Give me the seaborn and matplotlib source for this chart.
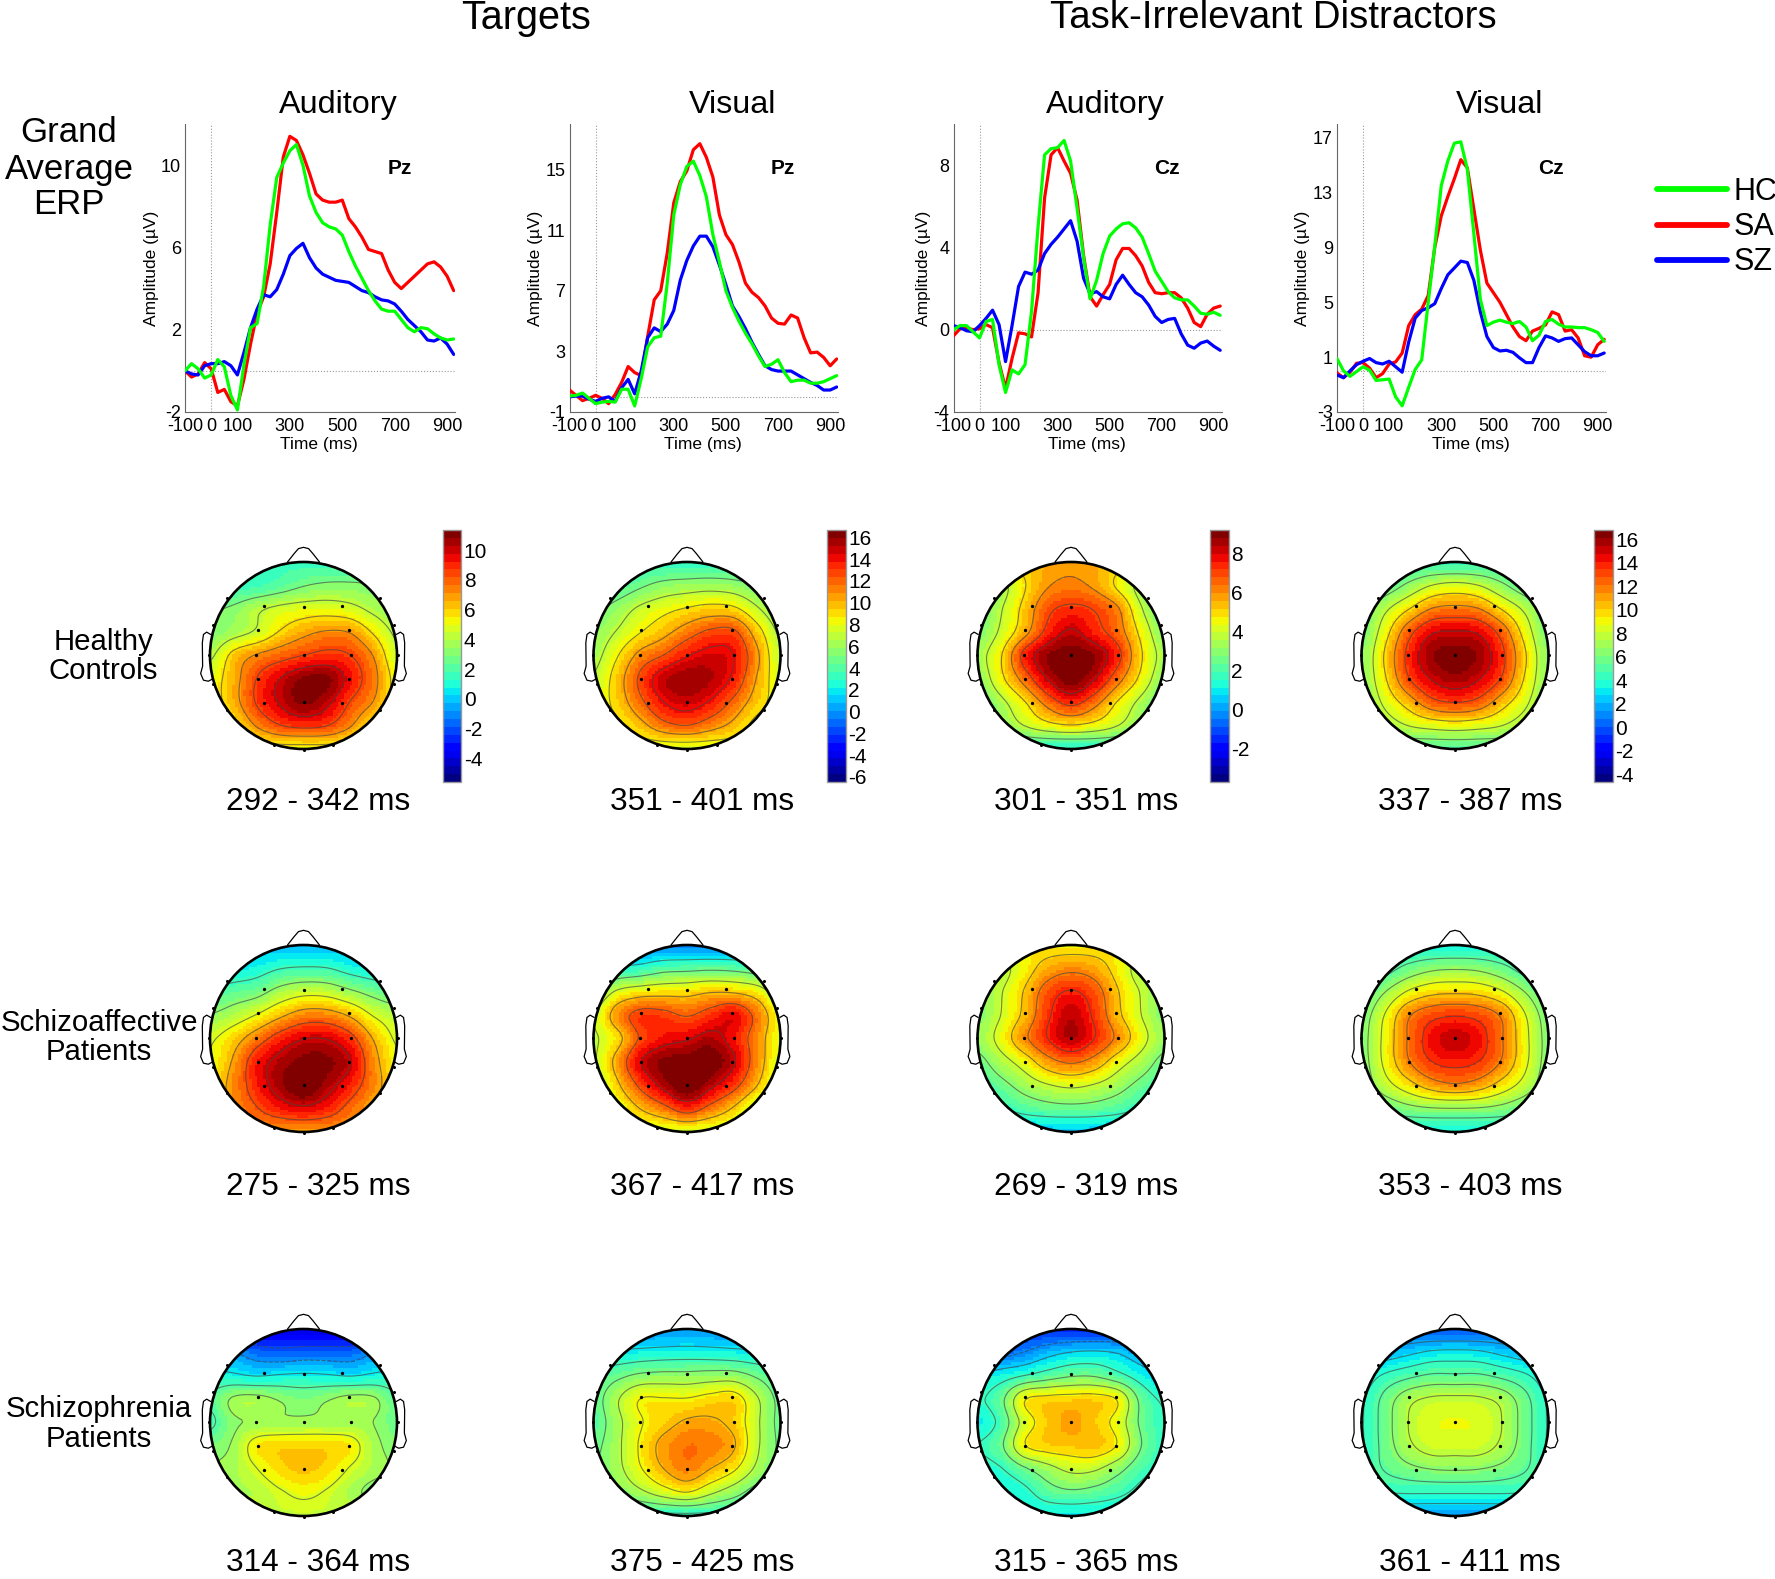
import numpy as np
import pandas as pd
import seaborn as sns
import matplotlib
matplotlib.use("Agg")
import matplotlib.pyplot as plt
from matplotlib.lines import Line2D
from matplotlib.patches import Circle

W, H = 1775, 1579

# time axis of the ERP curves, one value every 25 ms
time_ms = list(range(-100, 950, 25))

# grand average curves (uV)
aud_pz_hc = [0, .35, .1, -.35, -.2, .55, .2, -1.2, -1.9, .3, 2.1, 2.3, 4.1, 7.1, 9.4, 10.1, 10.7, 11.0, 10, 8.5, 7.7, 7.2, 7, 6.9, 6.6, 5.8, 5.1, 4.5, 3.9, 3.4, 3, 2.9, 2.9, 2.5, 2.1, 1.9, 2.1, 2.05, 1.8, 1.6, 1.5, 1.55]
aud_pz_sa = [0, -.3, -.15, .4, .1, -1.05, -.9, -1.5, -1.7, -.4, 1.3, 2.8, 3.6, 5.2, 7.7, 10.4, 11.4, 11.2, 10.5, 9.6, 8.6, 8.3, 8.2, 8.2, 8.3, 7.4, 7, 6.5, 5.9, 5.8, 5.7, 4.9, 4.3, 4, 4.3, 4.6, 4.9, 5.2, 5.3, 5.05, 4.6, 3.9]
aud_pz_sz = [0, -.15, -.2, .25, .35, .35, .45, .25, -.2, .9, 2.1, 3, 3.7, 3.6, 3.95, 4.7, 5.6, 5.95, 6.2, 5.5, 5, 4.7, 4.55, 4.4, 4.35, 4.3, 4.1, 3.9, 3.8, 3.6, 3.45, 3.4, 3.25, 2.9, 2.5, 2.2, 1.9, 1.5, 1.45, 1.6, 1.3, .8]

vis_pz_hc = [.05, .1, .25, -.1, -.45, -.35, -.3, -.35, .5, .5, -.6, 1.2, 3.3, 3.9, 4, 7.5, 12, 14, 15.2, 15.55, 14.6, 13.2, 10.7, 8.9, 7, 5.9, 5, 4.2, 3.5, 2.7, 2, 2.15, 2.45, 1.6, 1, 1.1, 1.1, .9, .9, 1, 1.2, 1.4]
vis_pz_sa = [.45, .1, -.25, -.1, .1, -.1, -.45, .15, .95, 2, 1.6, 1.4, 4, 6.4, 7, 9.5, 12.8, 14.2, 14.9, 16.3, 16.7, 15.8, 14.5, 12, 10.7, 10.05, 8.9, 7.5, 6.9, 6.55, 6, 5.2, 4.85, 4.8, 5.4, 5.2, 3.9, 2.9, 2.95, 2.6, 2.05, 2.5]
vis_pz_sz = [0, .05, .05, -.15, -.3, -.1, 0, -.3, .6, 1.15, .2, 1.7, 3.9, 4.55, 4.3, 4.8, 5.7, 7.7, 9, 9.95, 10.6, 10.6, 9.9, 8.7, 7.4, 6, 5.3, 4.5, 3.6, 2.8, 2.05, 1.8, 1.7, 1.7, 1.7, 1.45, 1.2, .95, .75, .45, .45, .65]

aud_cz_hc = [0, .2, .2, -.1, -.4, .4, .5, -1.7, -3.05, -1.95, -2.15, -1.7, .9, 5, 8.5, 8.8, 8.85, 9.2, 8.2, 5.9, 3.5, 1.5, 2.4, 3.7, 4.55, 4.9, 5.15, 5.2, 4.95, 4.5, 3.7, 2.85, 2.35, 1.85, 1.55, 1.45, 1.45, 1.15, .8, .75, .85, .7]
aud_cz_sa = [-.3, .05, .1, 0, .05, .25, .1, -1.6, -2.85, -1.4, -.15, -.2, -.35, 1.8, 6.4, 8.5, 8.85, 8.2, 7.6, 6.3, 3.6, 1.6, 1.15, 1.7, 2.2, 3.4, 3.95, 3.95, 3.6, 3.1, 2.3, 1.8, 1.75, 1.8, 1.8, 1.55, 1.05, .35, .15, .75, 1.05, 1.15]
aud_cz_sz = [.2, .1, -.05, -.1, .2, .55, .95, .25, -1.55, .2, 2.1, 2.8, 2.7, 2.9, 3.7, 4.15, 4.5, 4.9, 5.3, 4.3, 2.5, 1.75, 1.85, 1.6, 1.5, 2.2, 2.65, 2.2, 1.8, 1.6, 1.2, .65, .35, .5, .55, -.2, -.75, -.9, -.65, -.55, -.8, -1]

vis_cz_hc = [.9, 0, -.4, -.05, .3, .05, -.7, -.65, -.6, -1.9, -2.55, -1.2, .1, .8, 5, 9.1, 13.5, 15.3, 16.6, 16.7, 14.7, 10, 5.2, 3.3, 3.55, 3.7, 3.55, 3.45, 3.6, 3.2, 2.2, 2.6, 3.6, 3.75, 3.4, 3.2, 3.2, 3.15, 3.15, 3, 2.8, 2.15]
vis_cz_sa = [-.15, -.5, -.1, .55, .6, .2, -.5, -.2, .5, .65, 1.3, 3.3, 4.1, 4.5, 5.5, 9, 11.3, 12.7, 14, 15.4, 14.8, 11.8, 8.8, 6.4, 5.7, 5, 4.1, 3.2, 2.5, 2.2, 2.9, 3.1, 3.35, 4.3, 4.1, 2.9, 3, 2.4, 1.1, 1, 1.9, 2.3]
vis_cz_sz = [-.3, -.5, 0, .45, .7, .9, .6, .5, .7, .3, -.1, 2.1, 3.85, 4.4, 4.6, 4.9, 6, 7, 7.5, 8, 7.9, 6.6, 4.3, 2.5, 1.7, 1.45, 1.5, 1.35, .95, .6, .6, 1.7, 2.55, 2.4, 2.15, 2.35, 2.4, 1.9, 1.4, 1.1, 1.1, 1.3]

# scalp maps (uV) read on a 9x9 grid, rows from the nose down, columns left to right
hc_t_aud = [[1.6, 1.6, 1.6, 1.6, 1.6, 1.6, 1.6, 1.6, 1.6],
            [1.4, 1.5, 1.7, 2.2, 2.8, 3.1, 3.1, 2.9, 2.6],
            [2.7, 3.1, 4, 4.6, 4.9, 5, 4.7, 3.9, 3.2],
            [3, 3.7, 4.5, 5.8, 6.7, 7.2, 7, 5.5, 4],
            [4, 6.1, 7.2, 7.9, 8.5, 8.9, 8.5, 7, 4.5],
            [5, 6.5, 8.5, 9.9, 10.9, 11, 9.4, 7.5, 5.2],
            [5, 6.5, 8.6, 10, 11, 10.2, 8.4, 7, 5],
            [4.8, 5.5, 7.2, 8.4, 8.8, 8.5, 7.2, 5.5, 4.8],
            [5, 5, 5, 5.2, 5.2, 5.2, 5, 5, 5]]
hc_t_vis = [[3.2, 3.2, 3.2, 3.2, 3.2, 3.2, 3.2, 3.2, 3.2],
            [3.1, 3.8, 4.8, 5.6, 5.9, 6.1, 5.8, 5, 4],
            [4.6, 5.8, 7.2, 8.1, 8.8, 9.3, 9, 7.1, 5.3],
            [5.6, 7, 8.6, 9.9, 11.4, 12.6, 12.6, 9.5, 6.5],
            [6.2, 8.5, 11, 12.3, 13.9, 14.6, 14, 10.8, 7],
            [7, 9.5, 12.6, 15, 15.8, 15.3, 13.6, 10.3, 7.5],
            [7.5, 9.3, 11.8, 14, 14.8, 13.8, 11.8, 9.5, 7.8],
            [7.5, 8.2, 9.8, 11.6, 12.2, 11.2, 9.9, 8, 7.5],
            [7.6, 7.6, 7.6, 7.6, 7.6, 7.6, 7.6, 7.6, 7.6]]
hc_d_aud = [[4.8, 4.8, 5.2, 5.6, 5.8, 5.6, 5.2, 4.8, 4.8],
            [2.5, 3.4, 4.8, 5.9, 6.2, 5.8, 4.7, 3.4, 2.5],
            [2.5, 3.7, 5.2, 6.8, 7.3, 7, 6.1, 3.9, 2.4],
            [2.8, 4, 5.6, 7.4, 8.3, 7.5, 6.5, 4.6, 2.9],
            [3.4, 4.8, 7.4, 8.8, 9.1, 8.8, 7.4, 5, 3.4],
            [3, 4.6, 6.4, 8.2, 9.1, 8.2, 6.4, 4.6, 3],
            [2.4, 3.5, 4.8, 6.4, 7.4, 6.4, 4.8, 3.5, 2.4],
            [2, 2.9, 3.8, 4.5, 4.8, 4.5, 3.8, 2.9, 2],
            [1.5, 1.5, 1.5, 1.5, 1.5, 1.5, 1.5, 1.5, 1.5]]
hc_d_vis = [[4.4, 4.4, 4.4, 4.4, 4.4, 4.4, 4.4, 4.4, 4.4],
            [4.5, 5.2, 6.6, 8, 8.5, 8, 6.6, 5.2, 4.5],
            [5.5, 7.6, 9.6, 11.5, 11.9, 11.5, 9.6, 7.6, 5.5],
            [6, 9, 12.5, 14.7, 15, 14.7, 12.5, 9, 6],
            [6.5, 9.9, 13.6, 16, 16.6, 16, 13.6, 9.9, 6.5],
            [6.5, 9.5, 13, 15, 15.8, 15, 13, 9.5, 6.5],
            [6, 8.4, 10.5, 12.6, 13.2, 12.6, 10.5, 8.4, 6],
            [5.5, 6.9, 8, 8.6, 8.9, 8.6, 8, 6.9, 5.5],
            [5, 5, 5, 5, 5, 5, 5, 5, 5]]

sa_t_aud = [[-.2, -.2, -.2, -.2, -.2, -.2, -.2, -.2, -.2],
            [.2, .5, .9, 1.5, 1.7, 1.6, 1, .6, .4],
            [1.8, 2.3, 2.7, 3.8, 4.4, 4.3, 3.5, 2.7, 2.1],
            [3.3, 4, 5, 6.3, 7.3, 7.3, 6.4, 4.8, 4],
            [4.7, 5.9, 7.5, 9, 9.9, 9.9, 8.8, 6.5, 4.7],
            [5, 6.8, 9.2, 10.4, 11.1, 11, 10, 7.2, 5.2],
            [5.5, 7.2, 9.1, 10.6, 11.6, 10.5, 9.1, 7.3, 5.5],
            [5.6, 7, 8.2, 9.2, 9.7, 9.1, 7.8, 6.5, 5.3],
            [7, 7, 7, 7, 7, 7, 7, 7, 7]]
sa_t_vis = [[-.3, -.3, -.3, -.3, -.3, -.3, -.3, -.3, -.3],
            [2.1, 2.6, 3.1, 4, 4.2, 4.4, 4.2, 3.6, 3.1],
            [5, 7.6, 8.6, 8.9, 9, 9.6, 9.5, 8.5, 6],
            [7.2, 10.8, 13, 12.9, 12.1, 13.2, 14.2, 11.5, 8],
            [7, 9, 12.5, 14, 14.5, 15.3, 13.9, 11, 7.8],
            [7, 10.5, 14.6, 16.2, 16.5, 16.7, 14.9, 11, 7.5],
            [6.5, 9.3, 12.7, 15.3, 17, 15.2, 13, 9.8, 7],
            [7, 7.8, 9.8, 11.5, 13.3, 11.5, 9.5, 7, 5.5],
            [7.5, 7.5, 7.5, 7.5, 7.5, 7.5, 7.5, 7.5, 7.5]]
sa_d_aud = [[4.7, 4.7, 4.7, 4.7, 4.7, 4.7, 4.7, 4.7, 4.7],
            [3, 3.6, 4.6, 5.6, 6, 5.7, 4.7, 3.5, 3],
            [3, 3.9, 5.2, 6.8, 7.5, 6.8, 5.2, 3.9, 3],
            [2.9, 4, 5.4, 7.2, 8.3, 7.2, 5.4, 4, 2.9],
            [3.2, 4.4, 6, 7.4, 8.4, 7.4, 6, 4.4, 3.2],
            [2.5, 3.5, 4.5, 5.8, 6.4, 5.8, 4.5, 3.5, 2.5],
            [1.9, 2.5, 3.3, 3.9, 4.2, 3.9, 3.3, 2.5, 1.9],
            [1.2, 1.6, 2.1, 2.4, 2.5, 2.4, 2.1, 1.6, 1.2],
            [.5, .5, .5, .5, .5, .5, .5, .5, .5]]
sa_d_vis = [[3.6, 3.6, 3.6, 3.6, 3.6, 3.6, 3.6, 3.6, 3.6],
            [3.8, 4.5, 5.7, 6.5, 6.7, 6.5, 5.7, 4.5, 3.8],
            [5, 6.8, 8.7, 9.7, 9.9, 9.7, 8.7, 6.8, 5],
            [6, 8.6, 11.6, 13, 13.4, 13, 11.6, 8.6, 6],
            [6.3, 9, 12, 14.3, 15.2, 14.3, 12, 9, 6.3],
            [6.2, 8.9, 11.7, 13.5, 14, 13.5, 11.7, 8.9, 6.2],
            [5.8, 7.8, 9.5, 11, 11.6, 11, 9.5, 7.8, 5.8],
            [4.8, 5.5, 6.3, 6.7, 6.8, 6.7, 6.3, 5.5, 4.8],
            [3.4, 3.4, 3.4, 3.4, 3.4, 3.4, 3.4, 3.4, 3.4]]

sz_t_aud = [[-3.8, -3.8, -3.8, -3.8, -3.8, -3.8, -3.8, -3.8, -3.8],
            [-.7, -.9, -1.6, -1.9, -1.7, -1.7, -1.7, -1, -.7],
            [1, .8, .5, .7, .8, .7, .5, .8, 1],
            [2.2, 3.6, 3.8, 3.3, 2.9, 3.3, 3.8, 3.6, 2.2],
            [1.7, 3.2, 3.5, 3.6, 3.7, 3.7, 3.7, 3.4, 2.5],
            [2.9, 3.6, 5.5, 5.9, 5.9, 5.9, 5.5, 3.8, 3],
            [3.5, 3.8, 4.8, 5.8, 6.2, 5.8, 4.7, 3.8, 3.3],
            [3.6, 3.8, 4, 4.7, 5.1, 4.7, 3.8, 3.1, 3],
            [4.4, 4.4, 4.4, 4.4, 4.4, 4.4, 4.4, 4.4, 4.4]]
sz_t_vis = [[0, 0, 0, 0, 0, 0, 0, 0, 0],
            [2, 2, 2.2, 2.4, 2.5, 2.4, 2.2, 2, 2],
            [3.6, 4.6, 5.4, 5.6, 5.6, 5.8, 5.8, 4.8, 3.7],
            [4.3, 6.5, 8.4, 8.5, 8.5, 9, 9.2, 6.9, 4.6],
            [4, 6.2, 8.2, 9.3, 10.3, 10.3, 9.5, 7, 4.6],
            [4.6, 6.3, 8.6, 10.6, 11.6, 11.3, 10.2, 7, 4.8],
            [5, 6.2, 8.2, 10, 11.2, 10, 8.6, 6.3, 4.7],
            [4.6, 5.2, 6.3, 7.5, 8.3, 7, 5.7, 4.3, 3.8],
            [3, 3, 3, 3, 3, 3, 3, 3, 3]]
sz_d_aud = [[-1.4, -1.4, -1.4, -1.4, -1.4, -1.4, -1.4, -1.4, -1.4],
            [-1, -.7, -.3, .3, .7, .8, .6, 0, -.3],
            [.8, 1.2, 1.7, 2.2, 2.6, 2.6, 2, 1.2, .5],
            [1.5, 2.4, 4.6, 5, 5.1, 5.1, 4.6, 2.4, 1.5],
            [1, 2, 4.1, 5.2, 5.7, 5.2, 4.3, 2.5, 1.7],
            [1.7, 2.5, 4.6, 5.1, 5.2, 5.3, 4.6, 2.7, 1.7],
            [1.2, 1.6, 2.5, 3.3, 3.9, 3.8, 3, 2, 1.5],
            [.8, 1, 1.4, 2.2, 2.5, 2.3, 1.9, 1.4, 1],
            [1, 1, 1, 1, 1, 1, 1, 1, 1]]
sz_d_vis = [[.3, .3, .3, .3, .3, .3, .3, .3, .3],
            [1.6, 2, 2.5, 3, 3.1, 3, 2.5, 2, 1.6],
            [3.2, 4.2, 4.9, 5.4, 5.4, 5.4, 4.9, 4.2, 3.2],
            [3.8, 5.6, 7.2, 7.8, 7.9, 7.8, 7.2, 5.6, 3.8],
            [3.9, 5.8, 7.6, 8.6, 8.8, 8.6, 7.6, 5.8, 3.9],
            [3.9, 5.7, 7.3, 8.2, 8.2, 8.2, 7.3, 5.7, 3.9],
            [4.2, 5.3, 6, 6.4, 6.5, 6.4, 6, 5.3, 4.2],
            [3.8, 4, 4.1, 4.1, 4.1, 4.1, 4.1, 4, 3.8],
            [1.6, 1.6, 1.6, 1.6, 1.6, 1.6, 1.6, 1.6, 1.6]]

row_labels = [("Healthy", "Controls"), ("Schizoaffective", "Patients"), ("Schizophrenia", "Patients")]
condition_titles = ["Auditory", "Visual", "Auditory", "Visual"]
sites = ["Pz", "Pz", "Cz", "Cz"]
map_windows = [["292 - 342 ms", "351 - 401 ms", "301 - 351 ms", "337 - 387 ms"],
               ["275 - 325 ms", "367 - 417 ms", "269 - 319 ms", "353 - 403 ms"],
               ["314 - 364 ms", "375 - 425 ms", "315 - 365 ms", "361 - 411 ms"]]
erp_yticks = [[-2, 2, 6, 10], [-1, 3, 7, 11, 15], [-4, 0, 4, 8], [-3, 1, 5, 9, 13, 17]]
erp_ylim = [(-2, 12), (-1, 18), (-4, 10), (-3, 18)]
cbar_ticks = [list(range(-4, 11, 2)), list(range(-6, 17, 2)), list(range(-2, 9, 2)), list(range(-4, 17, 2))]
cbar_lim = [(-5.6, 11.35), (-6.46, 16.67), (-3.7, 9.2), (-4.65, 16.8)]

sns.set_theme(style="white")
plt.rcParams["font.family"] = ["Liberation Sans", "DejaVu Sans"]
plt.rcParams["axes.unicode_minus"] = False

fig = plt.figure(figsize=(W / 100, H / 100), dpi=100, facecolor="white")


def px_axes(x0, y0, x1, y1):
    return fig.add_axes([x0 / W, 1 - y1 / H, (x1 - x0) / W, (y1 - y0) / H])


def px_text(x, y, s, size, **kw):
    fig.text(x / W, 1 - y / H, s, fontsize=size, ha="center", va="center", color="black", **kw)


def resample(a, n):
    # catmull-rom along the first axis, only to draw the coarse reading smoothly
    m = a.shape[0]
    pos = (np.arange(n) + .5) / n * (m - 1)
    i = np.clip(pos.astype(int), 0, m - 2)
    t = (pos - i)[(...,) + (None,) * (a.ndim - 1)]
    p0, p1, p2, p3 = a[np.clip(i - 1, 0, m - 1)], a[i], a[i + 1], a[np.clip(i + 2, 0, m - 1)]
    return .5 * (2 * p1 + (p2 - p0) * t + (2 * p0 - 5 * p1 + 4 * p2 - p3) * t ** 2 + (3 * p1 - p0 - 3 * p2 + p3) * t ** 3)


# ---- ERP row
erp_rects = [(185, 455), (569.5, 838), (953.5, 1221.5), (1337, 1605.5)]
erp_data = [(aud_pz_hc, aud_pz_sa, aud_pz_sz), (vis_pz_hc, vis_pz_sa, vis_pz_sz),
            (aud_cz_hc, aud_cz_sa, aud_cz_sz), (vis_cz_hc, vis_cz_sa, vis_cz_sz)]
ylabel_x = [-.095, -.1, -.083, -.099]
title_x = [338.5, 732.5, 1105, 1500]
colors = {"HC": "#00ff00", "SA": "#ff0000", "SZ": "#0000ff"}

for k, (x0, x1) in enumerate(erp_rects):
    ax = px_axes(x0, 124, x1, 412)
    hc, sa, sz = erp_data[k]
    df = pd.DataFrame({"time": time_ms, "HC": hc, "SA": sa, "SZ": sz}).melt("time", var_name="group", value_name="amp")
    ax.axvline(0, color="#999999", lw=.8, ls=":", zorder=1)
    ax.axhline(0, color="#999999", lw=.8, ls=":", zorder=1)
    sns.lineplot(data=df, x="time", y="amp", hue="group", hue_order=["SA", "SZ", "HC"], palette=colors,
                 lw=2.3, legend=False, errorbar=None, ax=ax, zorder=3, solid_joinstyle="round")
    ax.set_xlim(-100, 930)
    ax.set_ylim(*erp_ylim[k])
    ax.set_xticks([-100, 0, 100, 300, 500, 700, 900])
    ax.set_yticks(erp_yticks[k])
    ax.tick_params(direction="in", length=2.5, width=.7, color="#555555", labelsize=13, pad=3, labelcolor="black")
    ax.tick_params(axis="x", pad=4)
    for s in ["top", "right"]:
        ax.spines[s].set_visible(False)
    for s in ["left", "bottom"]:
        ax.spines[s].set_color("#666666")
        ax.spines[s].set_linewidth(.8)
    ax.set_xlabel("Time (ms)", fontsize=12.5, color="black")
    ax.set_ylabel("Amplitude (µV)", fontsize=12.5, color="black")
    ax.xaxis.set_label_coords(.497, -.088)
    ax.yaxis.set_label_coords(ylabel_x[k], .5)
    ax.text(.795, .847, sites[k], transform=ax.transAxes, fontsize=15, fontweight="bold",
            ha="center", va="center", color="black")
    px_text(title_x[k], 105, condition_titles[k], 23.3)

px_text(526, 18, "Targets", 28.5)
px_text(1273, 18, "Task-Irrelevant Distractors", 27.6)
px_text(69, 132, "Grand", 25)
px_text(69, 169, "Average", 25)
px_text(69, 204, "ERP", 25)

handles = [Line2D([], [], color=colors[g], lw=4.2, solid_capstyle="round") for g in ["HC", "SA", "SZ"]]
fig.legend(handles, ["HC", "SA", "SZ"], loc="upper left", bbox_to_anchor=(1651 / W, 1 - 171 / H), frameon=False,
           fontsize=22, handlelength=2.3, handletextpad=.2, labelspacing=.17, borderpad=.2, borderaxespad=0,
           labelcolor="black")

# ---- scalp maps
head_x = [303.5, 687, 1071, 1455]
head_y = [655.5, 1038.5, 1422.5]
head_r = 93.5
cbar_x = [442.5, 827, 1210, 1594]
text_x = [318, 702, 1086, 1470]
text_y = [802, 1187, 1563]
maps = [[hc_t_aud, hc_t_vis, hc_d_aud, hc_d_vis],
        [sa_t_aud, sa_t_vis, sa_d_aud, sa_d_vis],
        [sz_t_aud, sz_t_vis, sz_d_aud, sz_d_vis]]
jet = matplotlib.colormaps["jet"].resampled(32)
n = 67

el_inner = [(-.418, .525), (0, .514), (.414, .525), (-.489, .268), (.486, .268), (-.507, .01), (0, .01), (.507, .01),
            (-.489, -.254), (.486, -.254), (-.418, -.507), (0, -.496), (.414, -.507)]
el_rim = [(-.82, .61), (.82, .61), (-.964, .321), (.964, .321), (-1.01, .01), (1.01, .01), (-.964, -.3), (.964, -.3),
          (-.82, -.586), (.82, -.586), (-.32, -.954), (.32, -.954), (0, -1.01)]
nose_u = [-.171, -.1, -.054, 0, .054, .1, .171]
nose_v = [1.0, 1.09, 1.143, 1.157, 1.143, 1.09, 1.0]
ear_u = [.993, 1.036, 1.07, 1.082, 1.079, 1.1, 1.07, 1.018, .97]
ear_v = [.225, .25, .225, .136, -.114, -.193, -.264, -.275, -.25]

for r in range(3):
    for c in range(4):
        cx, cy = head_x[c], head_y[r]
        ax = px_axes(cx - head_r, cy - head_r, cx + head_r, cy + head_r)
        up = resample(resample(np.array(maps[r][c], dtype=float), n).T, n).T
        vmin, vmax = cbar_lim[c]
        if r == 0:
            cax = px_axes(cbar_x[c], 530, cbar_x[c] + 18.5, 782)
            sns.heatmap(up, cmap=jet, vmin=vmin, vmax=vmax, ax=ax, cbar_ax=cax, xticklabels=False, yticklabels=False,
                        cbar_kws={"ticks": cbar_ticks[c]})
            cb = ax.collections[0].colorbar
            cb.outline.set_edgecolor("#999999")
            cb.outline.set_linewidth(1)
            cb.ax.tick_params(length=0, labelsize=15, pad=2, labelcolor="black")
        else:
            sns.heatmap(up, cmap=jet, vmin=vmin, vmax=vmax, ax=ax, cbar=False, xticklabels=False, yticklabels=False)
        to_x = lambda u: (np.asarray(u) + 1) * n / 2
        to_y = lambda v: (1 - np.asarray(v)) * n / 2
        rim = Circle((n / 2, n / 2), n / 2, fill=False, ec="black", lw=1.9, clip_on=False, zorder=6)
        ax.add_patch(rim)
        ax.collections[0].set_clip_path(rim)
        g = np.arange(n) + .5
        inside = (g[None, :] - n / 2) ** 2 + (g[:, None] - n / 2) ** 2 < (n / 2) ** 2
        levels = np.linspace(up[inside].min(), up[inside].max(), 8)[1:-1]
        cs = ax.contour(g, g, up, levels=levels, colors="#444444", linewidths=.8, alpha=.65)
        cs.set_clip_path(rim)
        ax.plot(to_x(nose_u), to_y(nose_v), color="black", lw=.9, clip_on=False)
        for side in (-1, 1):
            ax.plot(to_x(side * np.array(ear_u)), to_y(ear_v), color="black", lw=.9, clip_on=False)
        for pts, ms in ((el_inner, 2.4), (el_rim, 2.2)):
            ax.plot(to_x([p[0] for p in pts]), to_y([p[1] for p in pts]), ls="", marker="o", ms=ms, mew=0,
                    color="black", clip_on=False, zorder=7)
        ax.set_xlim(0, n)
        ax.set_ylim(n, 0)
        ax.set_xlabel("")
        ax.set_ylabel("")
        ax.axis("off")
        px_text(text_x[c], text_y[r], map_windows[r][c], 22.7)

px_text(103, 642, row_labels[0][0], 21.2)
px_text(103, 671, row_labels[0][1], 21.2)
px_text(99, 1023, row_labels[1][0], 21.2)
px_text(99, 1052, row_labels[1][1], 21.2)
px_text(99, 1409, row_labels[2][0], 21.2)
px_text(99, 1439, row_labels[2][1], 21.2)

fig.savefig("out.png", dpi=100, facecolor="white")
